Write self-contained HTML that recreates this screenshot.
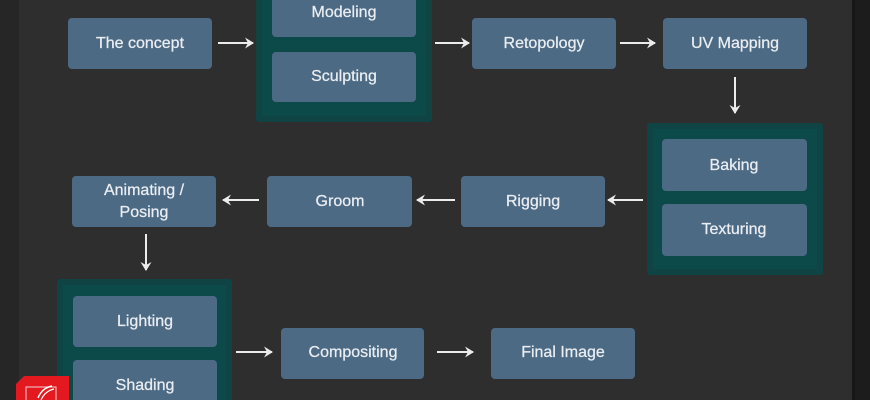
<!DOCTYPE html>
<html><head><meta charset="utf-8"><style>
html,body{margin:0;padding:0;background:#2e2e2e;}
body{width:870px;height:400px;overflow:hidden;position:relative;}
svg{position:absolute;left:0;top:0;}
text{font-family:"Liberation Sans",sans-serif;font-size:16px;fill:#eaeef2;text-anchor:middle;stroke:#eaeef2;stroke-width:0.25px;}
</style></head><body>
<svg width="870" height="400" viewBox="0 0 870 400" xmlns="http://www.w3.org/2000/svg">
<defs>
<marker id="ah" markerWidth="10" markerHeight="12" refX="8" refY="6" orient="auto" markerUnits="userSpaceOnUse">
<path d="M0,0.5 L9,6 L0,11.5 L3,6 Z" fill="#ececec"/>
</marker>
</defs>
<rect x="0" y="0" width="870" height="400" fill="#2e2e2e"/>
<rect x="0" y="0" width="19" height="400" fill="#262626"/>
<rect x="852" y="0" width="18" height="400" fill="#1c1c1c"/>
<rect x="852" y="0" width="3" height="400" fill="#171717"/>

<!-- groups -->
<g>
<rect x="256" y="-10" width="176" height="132" rx="3" fill="#104343"/>
<rect x="262" y="-10" width="164" height="126" fill="#0c4949"/>
<rect x="647" y="123" width="176" height="152" rx="3" fill="#104343"/>
<rect x="653" y="129" width="164" height="140" fill="#0c4949"/>
<rect x="57" y="279" width="175" height="140" rx="3" fill="#104343"/>
<rect x="63" y="285" width="163" height="130" fill="#0c4949"/>
</g>

<!-- boxes -->
<g fill="#4d6a85">
<rect x="68" y="18" width="144" height="51" rx="4"/>
<rect x="272" y="-13" width="144" height="50" rx="4"/>
<rect x="272" y="52" width="144" height="50" rx="4"/>
<rect x="472" y="18" width="144" height="51" rx="4"/>
<rect x="663" y="18" width="144" height="51" rx="4"/>
<rect x="662" y="139" width="145" height="52" rx="4"/>
<rect x="662" y="204" width="145" height="52" rx="4"/>
<rect x="461" y="176" width="144" height="51" rx="4"/>
<rect x="267" y="176" width="145" height="51" rx="4"/>
<rect x="72" y="176" width="144" height="51" rx="4"/>
<rect x="73" y="296" width="144" height="51" rx="4"/>
<rect x="73" y="360" width="144" height="51" rx="4"/>
<rect x="281" y="328" width="143" height="51" rx="4"/>
<rect x="491" y="328" width="144" height="51" rx="4"/>
</g>

<!-- labels -->
<text x="140" y="48">The concept</text>
<text x="344" y="17">Modeling</text>
<text x="344" y="81">Sculpting</text>
<text x="544" y="48">Retopology</text>
<text x="735" y="48">UV Mapping</text>
<text x="734" y="170">Baking</text>
<text x="734" y="234">Texturing</text>
<text x="533" y="206">Rigging</text>
<text x="340" y="206">Groom</text>
<text x="144" y="195">Animating /</text>
<text x="144" y="217">Posing</text>
<text x="145" y="326">Lighting</text>
<text x="145" y="390">Shading</text>
<text x="353" y="357">Compositing</text>
<text x="563" y="357">Final Image</text>

<!-- arrows -->
<g stroke="#ececec" stroke-width="2" fill="none" marker-end="url(#ah)">
<line x1="218" y1="43" x2="253" y2="43"/>
<line x1="435" y1="43" x2="469" y2="43"/>
<line x1="620" y1="43" x2="655" y2="43"/>
<line x1="735" y1="77" x2="735" y2="113"/>
<line x1="643" y1="200" x2="608" y2="200"/>
<line x1="455" y1="200" x2="417" y2="200"/>
<line x1="259" y1="200" x2="223" y2="200"/>
<line x1="146" y1="234" x2="146" y2="270"/>
<line x1="236" y1="352" x2="272" y2="352"/>
<line x1="437" y1="352" x2="473" y2="352"/>
</g>

<!-- red logo -->
<path d="M24,376 L69,376 L69,400 L16,400 L16,384 Z" fill="#e3191f"/>
<rect x="26" y="387" width="30" height="16" fill="none" stroke="#f4d4d4" stroke-width="1"/>
<path d="M38,398 Q42,388 52,386" stroke="#ffffff" stroke-width="1.5" fill="none"/>
<path d="M41,400 Q45,391 54,389" stroke="#ffffff" stroke-width="1.2" fill="none"/>
</svg>
</body></html>
